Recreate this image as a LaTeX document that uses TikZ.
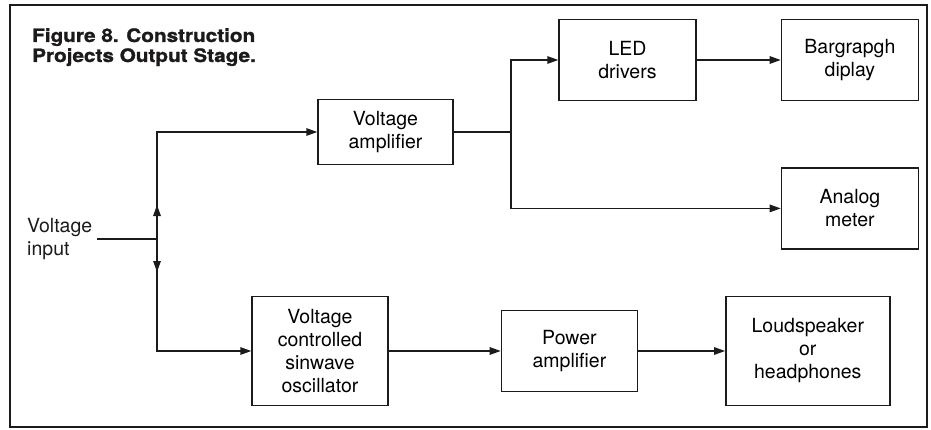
\documentclass[tikz,border=0pt]{standalone}
\usepackage{fontspec}
\setmainfont{TeX Gyre Heros}
\newfontfamily\headfont[FakeStretch=1.12, BoldFeatures={FakeBold=1.3}]{TeX Gyre Heros}
\usepackage{tikz}
\usetikzlibrary{
  arrows.meta,
  positioning
}
\definecolor{ink}{HTML}{1C1A1A}
\definecolor{paper}{HTML}{FFFFFF}
\tikzset{
  block/.style={
    draw=ink,
    fill=paper,
    line width=1.4pt,
    minimum width=136pt,
    minimum height=81pt,
    inner sep=2pt,
    align=center,
    font=\fontsize{19.5}{23}\selectfont
  },
  tallblock/.style={
    block,
    minimum height=109pt
  },
  flow/.style={
    -{Triangle[length=11pt,width=7.5pt]},
    line width=1.4pt,
    draw=ink
  },
  wire/.style={
    line width=1.4pt,
    draw=ink
  },
  label/.style={
    inner sep=0pt,
    align=left,
    text=ink,
    font=\fontsize{19.5}{23}\selectfont
  },
  heading/.style={
    inner sep=0pt,
    align=left,
    text=ink,
    font=\fontsize{18.5}{20}\headfont\bfseries
  }
}

\begin{document}
\begin{tikzpicture}[x=1pt, y=1pt]
  \useasboundingbox (0,0) rectangle (931,429);
  \draw[ink, line width=2.5pt] (10,2) rectangle (927,424);

  \node[heading, anchor=north west] (title) at (32,401) {
    Figure 8. Construction\\
    Projects Output Stage.
  };

  \node[tallblock] (osc) at (320,78) {
    Voltage\\controlled\\sinwave\\oscillator
  };
  \node[block, right=112pt of osc] (poweramp) {
    Power\\amplifier
  };
  \node[tallblock, right=87pt of poweramp, minimum width=164pt] (speaker) {
    Loudspeaker\\or\\headphones
  };
  \node[block, minimum width=135pt, minimum height=65pt] (voltamp)
    at (385.5,297) {
    Voltage\\amplifier
  };
  \node[block, minimum width=137pt] (leddrv) at (627.5,369) {
    LED\\drivers
  };
  \node[block, minimum width=137pt, right=84pt of leddrv] (bargraph) {
    Bargrapgh\\diplay
  };
  \node[block, minimum width=137pt, below=66pt of bargraph] (meter) {
    Analog\\meter
  };
  \node[label, anchor=west] (input) at (27,190) {
    Voltage\\input
  };

  \coordinate (split) at (157,190);
  \coordinate (upmark) at (157,224);
  \coordinate (downmark) at (157,157);
  \coordinate (fork) at (511,297);

  \draw[wire] ([xshift=5pt]input.east) -- (split);
  \draw[flow] (split) |- (voltamp.west);
  \draw[flow] (split) |- (osc.west);
  \draw[flow] (split) -- (upmark);
  \draw[flow] (split) -- (downmark);
  \draw[wire] (voltamp.east) -- (fork);
  \draw[flow] (fork) |- (leddrv.west);
  \draw[flow] (fork) |- (meter.west);
  \draw[flow] (leddrv) -- (bargraph);
  \draw[flow] (osc) -- (poweramp);
  \draw[flow] (poweramp) -- (speaker);
\end{tikzpicture}
\end{document}
